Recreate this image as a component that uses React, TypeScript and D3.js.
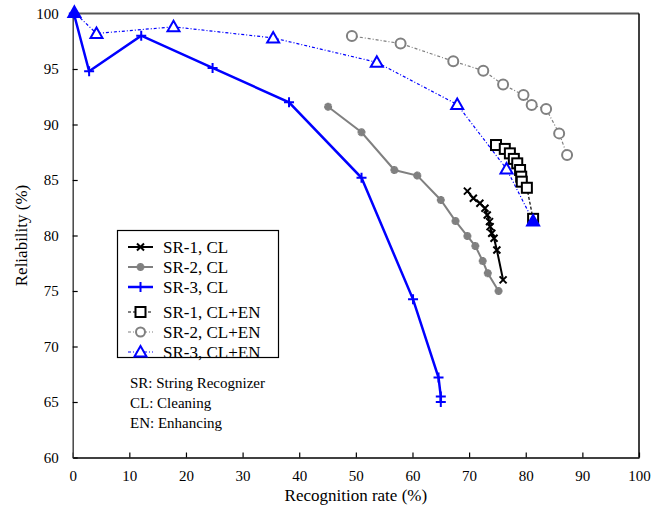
import React, { useEffect, useRef } from "react";
import * as d3 from "d3";

// recognition rate (%) / reliability (%)
const sr1CL_x = [69.7, 70.75, 71.9, 72.8, 73.2, 73.6, 73.7, 74.0, 74.4, 74.9, 76.0];
const sr1CL_y = [84.0, 83.35, 82.9, 82.45, 81.85, 81.25, 80.8, 80.2, 79.75, 78.7, 76.0];

const sr2CL_x = [45.1, 51.0, 56.8, 60.85, 65.0, 67.6, 69.7, 71.1, 72.4, 73.3, 75.2];
const sr2CL_y = [91.6, 89.3, 85.9, 85.4, 83.2, 81.3, 79.95, 79.05, 77.7, 76.6, 75.0];

const sr3CL_x = [0.2, 2.9, 12.1, 24.7, 38.2, 51.0, 60.1, 64.6, 65.0, 65.0];
const sr3CL_y = [100.0, 94.8, 98.0, 95.1, 92.0, 85.2, 74.25, 67.2, 65.5, 65.0];

const sr1EN_x = [74.75, 76.3, 77.2, 77.9, 78.5, 79.0, 79.2, 79.3, 80.2, 81.3];
const sr1EN_y = [88.15, 87.8, 87.4, 86.9, 86.5, 85.9, 85.3, 84.85, 84.3, 81.5];

const sr2EN_x = [49.3, 57.9, 67.2, 72.5, 76.0, 79.6, 81.05, 83.6, 85.9, 87.3];
const sr2EN_y = [97.97, 97.3, 95.7, 94.85, 93.6, 92.65, 91.75, 91.4, 89.2, 87.25];

const sr3EN_x = [0.3, 4.2, 17.8, 35.4, 53.7, 67.9, 76.6, 81.3];
const sr3EN_y = [100.1, 98.2, 98.8, 97.8, 95.6, 91.8, 86.0, 81.3];
const sr3EN_filled = [0, 7]; // markers that look solid (overlapping points)

const seriesNames = ["SR-1, CL", "SR-2, CL", "SR-3, CL", "SR-1, CL+EN", "SR-2, CL+EN", "SR-3, CL+EN"];
const notes = ["SR: String Recognizer", "CL: Cleaning", "EN: Enhancing"];
const xTicks = [0, 10, 20, 30, 40, 50, 60, 70, 80, 90, 100];
const yTicks = [60, 65, 70, 75, 80, 85, 90, 95, 100];

const FONT = "'Liberation Serif', 'Times New Roman', 'DejaVu Serif', serif";
const BLUE = "#0000ff";
const GRAY = "#808080";

const App = () => {
  const svgRef = useRef<SVGSVGElement>(null);

  useEffect(() => {
    const svg = d3.select(svgRef.current);
    svg.selectAll("*").remove();

    const x = d3.scaleLinear().domain([0, 100]).range([72.7, 639]);
    const y = d3.scaleLinear().domain([60, 100]).range([457.5, 13.5]);

    const g = svg.append("g").style("font-family", FONT);

    // frame
    g.append("line").attr("x1", x(0)).attr("x2", x(100)).attr("y1", y(100)).attr("y2", y(100))
      .attr("stroke", "#555").attr("stroke-width", 2);
    g.append("line").attr("x1", x(100)).attr("x2", x(100)).attr("y1", y(100)).attr("y2", y(60))
      .attr("stroke", "#000").attr("stroke-width", 1.5);

    // x axis (ticks inside)
    const xAxis = g.append("g").attr("transform", `translate(0,${y(60)})`)
      .call(d3.axisBottom(x).tickValues(xTicks).tickSizeInner(-5).tickSizeOuter(0).tickPadding(13));
    xAxis.style("font-family", FONT).attr("font-size", 15);
    xAxis.select(".domain").attr("stroke", "#000").attr("stroke-width", 1.5);
    xAxis.selectAll(".tick line").attr("stroke", "#000").attr("stroke-width", 1.2);
    xAxis.selectAll("text").attr("fill", "#000");

    // y axis (ticks inside)
    const yAxis = g.append("g").attr("transform", `translate(${x(0)},0)`)
      .call(d3.axisLeft(y).tickValues(yTicks).tickSizeInner(-5).tickSizeOuter(0).tickPadding(14));
    yAxis.style("font-family", FONT).attr("font-size", 15);
    yAxis.select(".domain").attr("stroke", "#444").attr("stroke-width", 1.5);
    yAxis.selectAll(".tick line").attr("stroke", "#000").attr("stroke-width", 1.2);
    yAxis.selectAll("text").attr("fill", "#000");

    // axis titles
    g.append("text").attr("x", (x(0) + x(100)) / 2).attr("y", 501).attr("text-anchor", "middle")
      .attr("font-size", 17).text("Recognition rate (%)");
    g.append("text").attr("transform", `translate(27,${y(80)}) rotate(-90)`).attr("text-anchor", "middle")
      .attr("font-size", 17).text("Reliability (%)");

    const line = d3.line<[number, number]>().x((d) => x(d[0])).y((d) => y(d[1]));
    const zip = (xs: number[], ys: number[]) => xs.map((v, i) => [v, ys[i]] as [number, number]);

    const plot = g.append("g");

    // marker drawers
    const drawX = (sel: any, px: number, py: number, s: number) => {
      sel.append("path").attr("d", `M${px - s},${py - s}L${px + s},${py + s}M${px - s},${py + s}L${px + s},${py - s}`)
        .attr("stroke", "#000").attr("stroke-width", 2).attr("fill", "none");
    };
    const drawStar = (sel: any, px: number, py: number, c: string, s: number) => {
      sel.append("path").attr("d", d3.symbol(d3.symbolCross, s * 10)()).attr("transform", `translate(${px},${py}) rotate(45)`).attr("fill", c);
      sel.append("path").attr("d", d3.symbol(d3.symbolCross, s * 10)()).attr("transform", `translate(${px},${py})`).attr("fill", c);
    };
    const drawPlus = (sel: any, px: number, py: number, s: number) => {
      sel.append("path").attr("d", `M${px - s},${py}L${px + s},${py}M${px},${py - s}L${px},${py + s}`)
        .attr("stroke", BLUE).attr("stroke-width", 2).attr("fill", "none");
    };
    const drawSquare = (sel: any, px: number, py: number, s: number) => {
      sel.append("rect").attr("x", px - s).attr("y", py - s).attr("width", 2 * s).attr("height", 2 * s)
        .attr("fill", "#fff").attr("stroke", "#000").attr("stroke-width", 2);
    };
    const drawCircle = (sel: any, px: number, py: number, r: number) => {
      sel.append("circle").attr("cx", px).attr("cy", py).attr("r", r)
        .attr("fill", "#fff").attr("stroke", GRAY).attr("stroke-width", 2);
    };
    const drawTri = (sel: any, px: number, py: number, s: number, filled: boolean) => {
      sel.append("path").attr("d", `M${px},${py - s}L${px + s},${py + s * 0.75}L${px - s},${py + s * 0.75}Z`)
        .attr("fill", filled ? BLUE : "#fff").attr("stroke", BLUE).attr("stroke-width", 2).attr("stroke-linejoin", "miter");
    };

    // CL+EN series (dashed)
    const sr2EN = zip(sr2EN_x, sr2EN_y);
    plot.append("path").attr("d", line(sr2EN)).attr("fill", "none").attr("stroke", GRAY).attr("stroke-width", 1.2).attr("stroke-dasharray", "3,2,1,2");
    const sr3EN = zip(sr3EN_x, sr3EN_y);
    plot.append("path").attr("d", line(sr3EN)).attr("fill", "none").attr("stroke", BLUE).attr("stroke-width", 1.2).attr("stroke-dasharray", "3,2,1,2");
    const sr1EN = zip(sr1EN_x, sr1EN_y);
    plot.append("path").attr("d", line(sr1EN)).attr("fill", "none").attr("stroke", "#000").attr("stroke-width", 1.2).attr("stroke-dasharray", "3,2");

    // CL series (solid)
    const sr2 = zip(sr2CL_x, sr2CL_y);
    plot.append("path").attr("d", line(sr2)).attr("fill", "none").attr("stroke", GRAY).attr("stroke-width", 2);
    const sr1 = zip(sr1CL_x, sr1CL_y);
    plot.append("path").attr("d", line(sr1)).attr("fill", "none").attr("stroke", "#000").attr("stroke-width", 2);
    const sr3 = zip(sr3CL_x, sr3CL_y);
    plot.append("path").attr("d", line(sr3)).attr("fill", "none").attr("stroke", BLUE).attr("stroke-width", 2.5);

    sr2EN.forEach((d) => drawCircle(plot, x(d[0]), y(d[1]), 5));
    sr2.forEach((d) => drawStar(plot, x(d[0]), y(d[1]), GRAY, 3.5));
    sr1.forEach((d) => drawX(plot, x(d[0]), y(d[1]), 3.5));
    sr3.forEach((d) => drawPlus(plot, x(d[0]), y(d[1]), 5));
    sr1EN.forEach((d) => drawSquare(plot, x(d[0]), y(d[1]), 5));
    sr3EN.forEach((d, i) => drawTri(plot, x(d[0]), y(d[1]), 6, sr3EN_filled.includes(i)));

    // legend
    const lg = g.append("g");
    lg.append("rect").attr("x", 117.5).attr("y", 230.5).attr("width", 161).attr("height", 127)
      .attr("fill", "#fff").attr("stroke", "#000").attr("stroke-width", 1.2);
    const rowY = [247, 267, 287, 312, 332, 352];
    seriesNames.forEach((name, i) => {
      const ry = rowY[i];
      const l = lg.append("line").attr("x1", 128).attr("x2", 153).attr("y1", ry).attr("y2", ry);
      if (i === 0) l.attr("stroke", "#000").attr("stroke-width", 2);
      if (i === 1) l.attr("stroke", GRAY).attr("stroke-width", 2);
      if (i === 2) l.attr("stroke", BLUE).attr("stroke-width", 2.5);
      if (i === 3) l.attr("stroke", "#000").attr("stroke-width", 1.2).attr("stroke-dasharray", "3,2");
      if (i === 4) l.attr("stroke", GRAY).attr("stroke-width", 1.2).attr("stroke-dasharray", "3,2,1,2");
      if (i === 5) l.attr("stroke", BLUE).attr("stroke-width", 1.2).attr("stroke-dasharray", "3,2,1,2");
      if (i === 0) drawX(lg, 140.5, ry, 3.5);
      if (i === 1) drawStar(lg, 140.5, ry, GRAY, 3.5);
      if (i === 2) drawPlus(lg, 140.5, ry, 5);
      if (i === 3) drawSquare(lg, 140.5, ry, 5);
      if (i === 4) drawCircle(lg, 140.5, ry, 4.5);
      if (i === 5) drawTri(lg, 140.5, ry, 6, false);
      lg.append("text").attr("x", 163).attr("y", ry + 6)
        .attr("font-size", 17).text(name);
    });

    notes.forEach((t, i) => {
      g.append("text").attr("x", 130).attr("y", 388 + i * 20)
        .attr("font-size", 15).text(t);
    });
  }, []);

  return (
    <div style={{ position: "absolute", left: 0, top: 0, width: 672, height: 511, background: "#fff" }}>
      <svg ref={svgRef} width={672} height={511}></svg>
    </div>
  );
};

export default App;
